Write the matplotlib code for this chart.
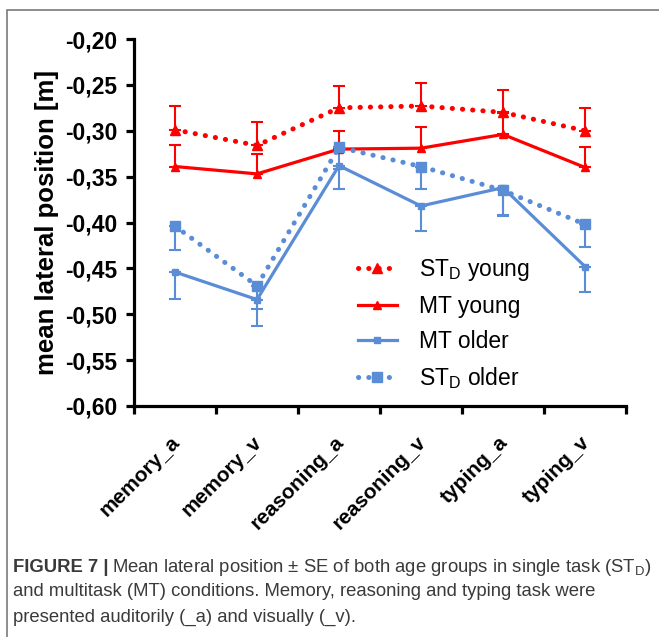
import matplotlib
matplotlib.use("Agg")
import matplotlib.pyplot as plt
from matplotlib.patches import Rectangle
from matplotlib.ticker import FixedLocator, FuncFormatter
from matplotlib.transforms import ScaledTranslation

plt.rcParams['font.family'] = ['Liberation Sans', 'DejaVu Sans']
plt.rcParams['mathtext.fontset'] = 'custom'
plt.rcParams['mathtext.rm'] = 'Liberation Sans'
plt.rcParams['mathtext.it'] = 'Liberation Sans:italic'
plt.rcParams['mathtext.bf'] = 'Liberation Sans:bold'

categories = ['memory_a', 'memory_v', 'reasoning_a', 'reasoning_v', 'typing_a', 'typing_v']

std_young = [-0.299, -0.316, -0.275, -0.273, -0.280, -0.300]
std_young_se = [0.026, 0.025, 0.024, 0.025, 0.024, 0.025]

mt_young = [-0.339, -0.347, -0.320, -0.319, -0.304, -0.340]
mt_young_se = [0.024, 0.022, 0.020, 0.023, 0.023, 0.022]

mt_older = [-0.454, -0.484, -0.338, -0.382, -0.362, -0.448]
mt_older_se = [0.029, 0.029, 0.025, 0.027, 0.030, 0.028]

std_older = [-0.404, -0.469, -0.318, -0.339, -0.365, -0.402]
std_older_se = [0.026, 0.025, 0.024, 0.024, 0.028, 0.025]

yticks = [-0.60, -0.55, -0.50, -0.45, -0.40, -0.35, -0.30, -0.25, -0.20]

RED = '#FF0000'
BLUE = '#5A8DD6'

W, H = 659, 637
fig = plt.figure(figsize=(W / 100, H / 100), dpi=100)
fig.patch.set_facecolor('white')

# outer frame
fig.patches.append(Rectangle((7 / W, -0.2), 2.0, 1.2 - 10 / H, transform=fig.transFigure,
                             fill=False, edgecolor='#7a7a7a', lw=1.2))

ax = fig.add_axes([134 / W, 1 - 406 / H, (626 - 134) / W, (406 - 39) / H])
x = list(range(len(categories)))
zeros = [0] * len(categories)

dot = (0, (0.05, 2.0))
common_err = dict(capsize=4.0, capthick=1.5, elinewidth=1.5)

def series(vals, se, up, color, ls, marker, ms, label):
    yerr = [zeros, se] if up else [se, zeros]
    ax.errorbar(x, vals, yerr=yerr, fmt='none', ecolor=color, **common_err, zorder=2)
    line, = ax.plot(x, vals, color=color, lw=2.3 if ls == '-' else 3.6, linestyle=ls,
                    dash_capstyle='round', marker=marker, ms=ms, mfc=color, mec=color,
                    label=label, zorder=3)
    return line

h1 = series(std_young, std_young_se, True, RED, dot, '^', 6.5, r'ST$_\mathrm{D}$ young')
h2 = series(mt_young, mt_young_se, True, RED, '-', '^', 6.0, 'MT young')
h4 = series(std_older, std_older_se, False, BLUE, dot, 's', 6.5, r'ST$_\mathrm{D}$ older')
h3 = series(mt_older, mt_older_se, False, BLUE, '-', 's', 5.0, 'MT older')

ax.set_xlim(-0.5, len(categories) - 0.5)
ax.set_ylim(-0.60, -0.20)
ax.set_yticks(yticks)
ax.yaxis.set_major_formatter(FuncFormatter(lambda v, p: f"{v:.2f}".replace('.', ',')))
for s in ['top', 'right']:
    ax.spines[s].set_visible(False)
for s in ['left', 'bottom']:
    ax.spines[s].set_linewidth(2.3)
    ax.spines[s].set_color('black')

ax.set_xticks(x)
ax.set_xticklabels(categories, rotation=45, ha='right', rotation_mode='anchor',
                   fontsize=15, fontweight='bold')
ax.tick_params(axis='x', which='major', length=0, pad=19)
shift = ScaledTranslation(-5 / 100, 0, fig.dpi_scale_trans)
for lab in ax.get_xticklabels():
    lab.set_transform(lab.get_transform() + shift)
ax.xaxis.set_minor_locator(FixedLocator([i - 0.5 for i in range(len(categories) + 1)]))
ax.tick_params(axis='x', which='minor', length=6, width=2.3, direction='out')
ax.tick_params(axis='y', length=6, width=2.3, direction='out', labelsize=16.5, pad=6)
for lab in ax.get_yticklabels():
    lab.set_fontweight('bold')

ax.set_ylabel('mean lateral position [m]', fontsize=18.5, fontweight='bold', labelpad=4)

leg = fig.legend(handles=[h1, h2, h3, h4], loc='upper left',
                 bbox_to_anchor=(358 / W, 1 - 257 / H), frameon=False,
                 fontsize=16.5, handlelength=1.7, handletextpad=0.95,
                 labelspacing=0.52, borderpad=0, borderaxespad=0, markerscale=1.0)

# caption
capcolor = '#3a3a3a'
fig.canvas.draw()
renderer = fig.canvas.get_renderer()
target_w = 652 - 13
fs = 13.0
for _ in range(3):
    t1 = fig.text(13 / W, 1 - 567 / H, 'FIGURE 7 |', fontsize=fs, fontweight='bold',
                  color=capcolor, va='center', ha='left')
    bb1 = t1.get_window_extent(renderer)
    t2 = fig.text((bb1.x1 + 4) / W, 1 - 567 / H,
                  r'Mean lateral position $\pm$ SE of both age groups in single task (ST$_\mathrm{D}$)',
                  fontsize=fs, color=capcolor, va='center', ha='left')
    bb2 = t2.get_window_extent(renderer)
    w = bb2.x1 - bb1.x0
    if abs(w - target_w) < 2:
        break
    t1.remove(); t2.remove()
    fs = fs * target_w / w

fig.text(13 / W, 1 - 592 / H,
         'and multitask (MT) conditions. Memory, reasoning and typing task were',
         fontsize=fs, color=capcolor, va='center', ha='left')
fig.text(13 / W, 1 - 617 / H, 'presented auditorily (_a) and visually (_v).',
         fontsize=fs, color=capcolor, va='center', ha='left')

fig.savefig('out.png', dpi=100, facecolor='white')
